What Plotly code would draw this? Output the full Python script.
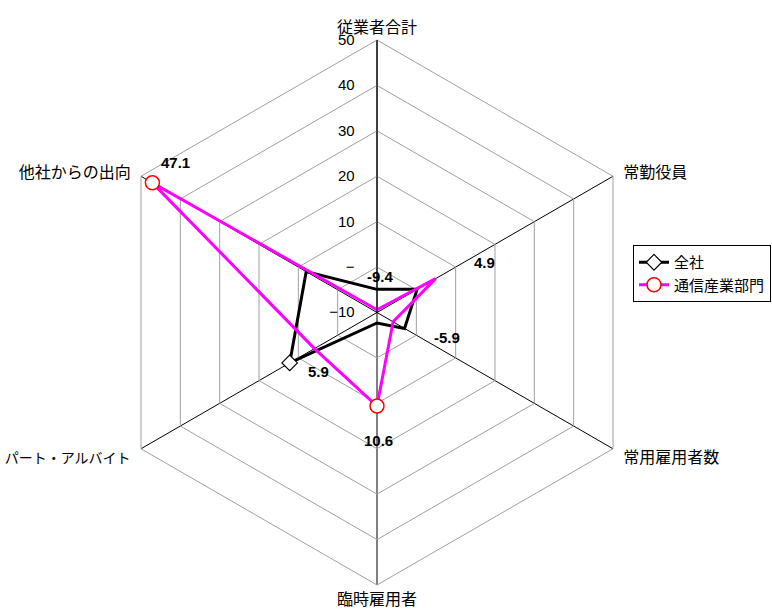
import math
import plotly.graph_objects as go

# Categories (clockwise from the top)
categories = ["従業者合計", "常勤役員", "常用雇用者数", "臨時雇用者", "パート・アルバイト", "他社からの出向"]

# Series values
zensha = [-4.9, 0.2, -3.0, -7.7, 12.2, 8.0]
tsushin = [-9.4, 4.9, -5.9, 10.6, 5.9, 47.1]

# Radial axis ticks
r_tickvals = [-10, 0, 10, 20, 30, 40, 50]
r_ticktext = ["−10", "−", "10", "20", "30", "40", "50"]

W, H = 772, 614
CX, CY, RAD = 377.0, 312.5, 272.5
RMIN, RMAX = -10, 50

FONT_JP = "Noto Sans CJK JP"
NB = "\u00a0"


def closed(seq):
    return list(seq) + [seq[0]]


# Angular labels: a little extra room between the outer ring and the text
cat_labels = [
    "従業者合計",
    NB * 2 + "常勤役員",
    NB * 2 + "常用雇用者数",
    "臨時雇用者",
    '<span style="font-size:14px">パート・アルバイト</span>' + NB * 2,
    "他社からの出向" + NB * 2,
]

# Radial labels sit a bit left of the vertical spoke
r_labels = [t + NB * 4 for t in r_ticktext]

fig = go.Figure()

fig.add_trace(go.Scatterpolar(
    r=closed(zensha), theta=closed(categories), name="全社",
    mode="lines+markers",
    line=dict(color="black", width=3),
    marker=dict(symbol="diamond", size=12, color="white",
                line=dict(color="black", width=1.2)),
))
fig.add_trace(go.Scatterpolar(
    r=closed(tsushin), theta=closed(categories), name="通信産業部門",
    mode="lines+markers",
    line=dict(color="#FF00FF", width=3),
    marker=dict(symbol="circle", size=14, color="white",
                line=dict(color="#FF0000", width=1.5)),
))

# Value labels for the 通信産業部門 series, anchored to each point
label_shift = [(3, 33), (49, 16), (54, -16), (1, -34), (4, -23), (23, 20)]
annotations = []
for i, (v, (sx, sy)) in enumerate(zip(tsushin, label_shift)):
    ang = math.radians(90 - i * 60)
    d = (v - RMIN) / (RMAX - RMIN) * RAD
    px = CX + d * math.cos(ang)
    py = CY - d * math.sin(ang)
    annotations.append(dict(
        x=px / W, y=1 - py / H, xref="paper", yref="paper",
        xanchor="center", yanchor="middle",
        text=f"<b>{v:.1f}</b>", showarrow=False,
        xshift=sx, yshift=sy,
        font=dict(family="Liberation Sans", size=15, color="black"),
    ))

fig.update_layout(
    width=W, height=H,
    margin=dict(l=0, r=0, t=0, b=0, autoexpand=False),
    paper_bgcolor="white",
    plot_bgcolor="white",
    font=dict(family=FONT_JP, size=16, color="black"),
    polar=dict(
        domain=dict(x=[(CX - RAD) / W, (CX + RAD) / W],
                    y=[1 - (CY + RAD) / H, 1 - (CY - RAD) / H]),
        gridshape="linear",
        bgcolor="white",
        radialaxis=dict(
            range=[RMIN, RMAX], tickvals=r_tickvals, ticktext=r_labels,
            angle=90, tickangle=90, side="counterclockwise", ticks="",
            showline=True, linecolor="black", linewidth=1,
            gridcolor="#A0A0A0", gridwidth=1,
            tickfont=dict(family="Liberation Sans", size=15, color="black"),
        ),
        angularaxis=dict(
            direction="clockwise", rotation=90,
            tickmode="array", tickvals=categories, ticktext=cat_labels,
            showline=True, linecolor="#A0A0A0", linewidth=1,
            gridcolor="black", gridwidth=1, ticks="",
            tickfont=dict(family=FONT_JP, size=16, color="black"),
        ),
    ),
    legend=dict(
        x=633 / W, y=1 - 245 / H, xanchor="left", yanchor="top",
        bgcolor="white", bordercolor="black", borderwidth=1,
        font=dict(family=FONT_JP, size=15, color="black"),
        tracegroupgap=0,
    ),
    annotations=annotations,
    showlegend=True,
)

fig.write_html("out.html")
